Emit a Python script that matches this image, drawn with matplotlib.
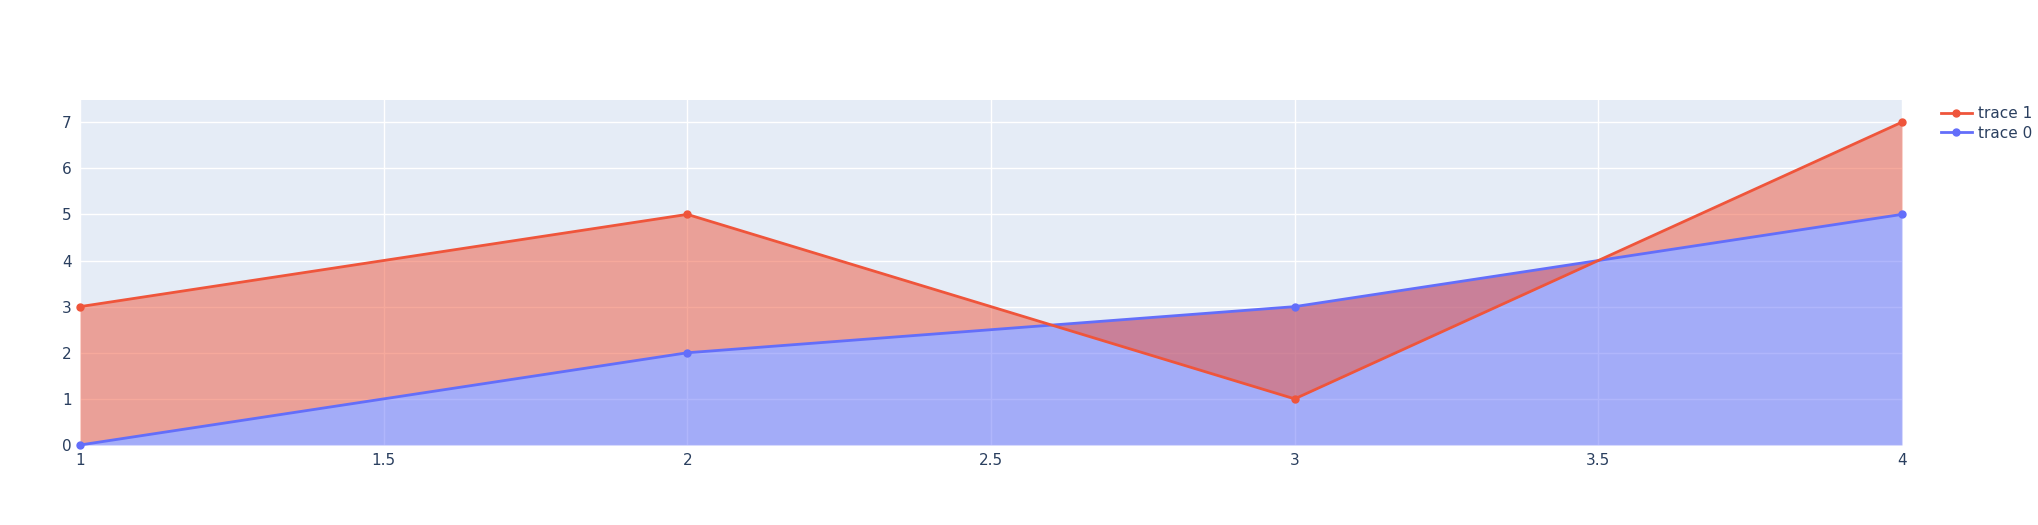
import matplotlib
matplotlib.use("Agg")
import matplotlib.pyplot as plt
from matplotlib.lines import Line2D
from matplotlib.patches import Patch

x = [1, 2, 3, 4]
trace0 = [0, 2, 3, 5]
trace1 = [3, 5, 1, 7]
names = ["trace 0", "trace 1"]
blue, red = "#636efa", "#EF553B"

fig = plt.figure(figsize=(20.38, 5.25), dpi=100)
ax = fig.add_axes([80/2038, 1-445/525, (1902-80)/2038, 345/525])
ax.set_facecolor("#E5ECF6")
ax.fill_between(x, 0, trace0, color=blue, alpha=0.5, lw=0)
ax.fill_between(x, trace0, trace1, color=red, alpha=0.5, lw=0)
ax.plot(x, trace0, color=blue, lw=2, marker="o", ms=5, clip_on=False, zorder=3)
ax.plot(x, trace1, color=red, lw=2, marker="o", ms=5, clip_on=False, zorder=3)
ax.set_xlim(1, 4)
ax.set_ylim(0, 7.48)
ax.set_xticks([1, 1.5, 2, 2.5, 3, 3.5, 4])
ax.set_xticklabels(["1", "1.5", "2", "2.5", "3", "3.5", "4"])
ax.set_yticks(range(8))
ax.grid(color="white", lw=1)
ax.set_axisbelow(True)
for s in ax.spines.values():
    s.set_visible(False)
ax.tick_params(length=0, labelsize=11, colors="#2a3f5f", pad=6)

handles = [
    (Line2D([], [], color=red, lw=2, marker="o", ms=5), Patch(color=red, alpha=0.5)),
    (Line2D([], [], color=blue, lw=2, marker="o", ms=5), Patch(color=blue, alpha=0.5)),
]
hl = [Line2D([], [], color=red, lw=2, marker="o", ms=5),
      Line2D([], [], color=blue, lw=2, marker="o", ms=5)]
fig.legend(hl, [names[1], names[0]], loc="upper left", bbox_to_anchor=(1935/2038, 1-100/525),
           frameon=False, fontsize=11, labelcolor="#2a3f5f", handlelength=2, handletextpad=0.4,
           labelspacing=0.3, borderaxespad=0)
fig.savefig("out.png", dpi=100)
